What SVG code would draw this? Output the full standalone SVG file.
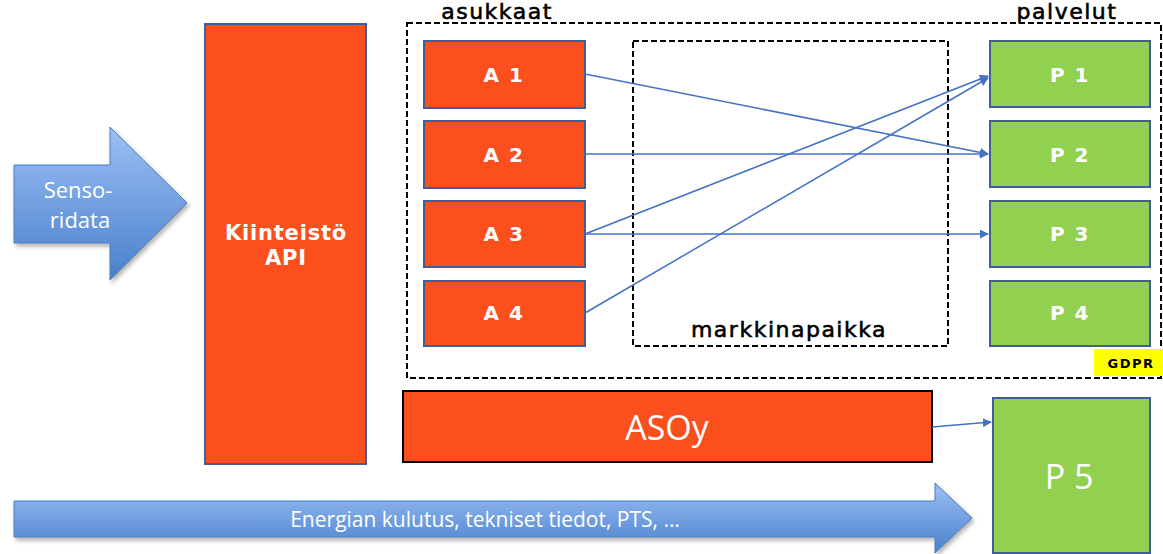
<svg xmlns="http://www.w3.org/2000/svg" width="1163" height="554" viewBox="0 0 1163 554">
<defs>
<linearGradient id="gb" x1="0" y1="0" x2="0" y2="1">
<stop offset="0" stop-color="#9BC0F5"/>
<stop offset="1" stop-color="#4A80CC"/>
</linearGradient>
<marker id="ah" viewBox="0 0 10 10" refX="9" refY="5" markerWidth="9" markerHeight="9" markerUnits="userSpaceOnUse" orient="auto">
<path d="M0,0 L10,5 L0,10 z" fill="#4472C4"/>
</marker>
<filter id="sh" x="-10%" y="-10%" width="120%" height="130%">
<feDropShadow dx="2" dy="3" stdDeviation="2" flood-color="#000" flood-opacity="0.3"/>
</filter>
</defs>
<style>
.or{fill:#FC4F1E;stroke:#3F5F95;stroke-width:2}
.gr{fill:#92D050;stroke:#3F5F95;stroke-width:2}
.dash{fill:none;stroke:#000;stroke-width:2;stroke-dasharray:6,3}
.lab{font-family:"DejaVu Sans",sans-serif;font-weight:bold;fill:#fff;font-size:20px;text-anchor:middle;letter-spacing:1.5px}
.hd{font-family:"DejaVu Sans",sans-serif;fill:#000;font-size:22px;text-anchor:middle;letter-spacing:1.5px;stroke:#000;stroke-width:0.6}
.cal{font-family:"Open Sans","Liberation Sans",sans-serif;fill:#fff;text-anchor:middle}
.con{stroke:#4472C4;stroke-width:1.5;fill:none;marker-end:url(#ah)}
</style>
<rect width="1163" height="554" fill="#fff"/>

<g id="sensoridata">
<path d="M14,165 L110,165 L110,127 L187,203 L110,280 L110,243 L14,243 Z" fill="url(#gb)" stroke="#4A7EBB" stroke-width="1" filter="url(#sh)"/>
<text class="cal" x="78" y="198" font-size="22">Senso-</text>
<text class="cal" x="80" y="228" font-size="22">ridata</text>
</g>

<g id="energia">
<path d="M14,501 L935,501 L935,483 L972,518 L935,553 L935,537 L14,537 Z" fill="url(#gb)" stroke="#4A7EBB" stroke-width="1" filter="url(#sh)"/>
<text class="cal" x="485" y="527" font-size="21">Energian kulutus, tekniset tiedot, PTS, …</text>
</g>

<g id="kiinteisto">
<rect class="or" x="205" y="24" width="161" height="440"/>
<text class="lab" x="286" y="240" style="font-size:21px;letter-spacing:0.8px">Kiinteistö</text>
<text class="lab" x="286" y="265" style="font-size:21px;letter-spacing:0.8px">API</text>
</g>

<g id="outer">
<rect class="dash" x="407" y="23" width="754" height="355"/>
<text class="hd" x="497" y="19">asukkaat</text>
<text class="hd" x="1067" y="19">palvelut</text>
</g>

<g id="markkinapaikka">
<rect class="dash" x="633" y="41" width="315" height="305"/>
<text class="hd" x="789" y="337">markkinapaikka</text>
</g>

<g id="A1"><rect class="or" x="424" y="41" width="161" height="67"/><text class="lab" x="504" y="82">A 1</text></g>
<g id="A2"><rect class="or" x="424" y="121" width="161" height="67"/><text class="lab" x="504" y="162">A 2</text></g>
<g id="A3"><rect class="or" x="424" y="201" width="161" height="66"/><text class="lab" x="504" y="241">A 3</text></g>
<g id="A4"><rect class="or" x="424" y="281" width="161" height="65"/><text class="lab" x="504" y="320">A 4</text></g>

<g id="P1"><rect class="gr" x="990" y="41" width="160" height="66"/><text class="lab" x="1070" y="82">P 1</text></g>
<g id="P2"><rect class="gr" x="990" y="121" width="160" height="66"/><text class="lab" x="1070" y="162">P 2</text></g>
<g id="P3"><rect class="gr" x="990" y="201" width="160" height="66"/><text class="lab" x="1070" y="241">P 3</text></g>
<g id="P4"><rect class="gr" x="990" y="281" width="160" height="65"/><text class="lab" x="1070" y="320">P 4</text></g>

<g id="GDPR">
<rect x="1094" y="349" width="69" height="27" fill="#FFFF00"/>
<text x="1131" y="368" font-family="DejaVu Sans,sans-serif" font-weight="bold" font-size="13" text-anchor="middle" letter-spacing="1.5">GDPR</text>
</g>

<g id="ASOy">
<rect x="403" y="391" width="529" height="71" fill="#FC4F1E" stroke="#000" stroke-width="2"/>
<text class="cal" x="667" y="440" font-size="34">ASOy</text>
</g>

<g id="P5">
<rect class="gr" x="993" y="398" width="157" height="155"/>
<text class="cal" x="1069" y="489" font-size="34">P 5</text>
</g>

<g id="connectors">
<line class="con" x1="585" y1="74" x2="988" y2="154"/>
<line class="con" x1="585" y1="154" x2="988" y2="154"/>
<line class="con" x1="585" y1="234" x2="988" y2="76"/>
<line class="con" x1="585" y1="234" x2="988" y2="234"/>
<line class="con" x1="585" y1="313" x2="988" y2="78"/>
<line class="con" x1="932" y1="427" x2="991" y2="422"/>
</g>
</svg>
